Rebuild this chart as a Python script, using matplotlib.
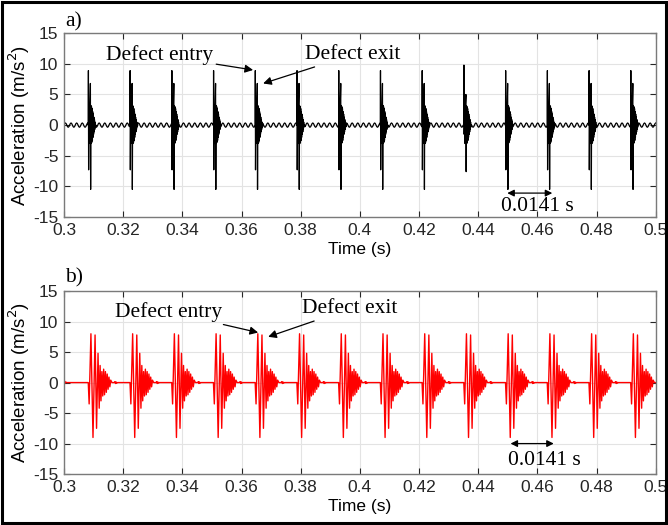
import numpy as np
import matplotlib
matplotlib.use('Agg')
import matplotlib.pyplot as plt
from matplotlib.patches import Rectangle
from matplotlib.ticker import FuncFormatter

plt.rcParams['axes.unicode_minus'] = False
plt.rcParams['font.family'] = ['Liberation Sans', 'DejaVu Sans']

# impact times (s)
burst_times = [0.3082, 0.3223, 0.3364, 0.3505, 0.3646, 0.3787, 0.3928,
               0.4069, 0.4210, 0.4351, 0.4492, 0.4633, 0.4774, 0.4915]

# panel a) burst shape: offsets (ms) and values (m/s^2)
a_dt = [0.0, 0.05, 0.12, 0.25, 0.40, 0.55, 0.72, 0.80, 0.90, 1.00, 1.10, 1.20,
        1.30, 1.40, 1.50, 1.60, 1.70, 1.80, 1.90, 2.00, 2.10, 2.20, 2.30, 2.45, 2.60]
a_val = [0.0, 8.9, -7.3, 3.2, -3.0, 3.4, 6.8, -10.5, 3.2, -3.0, 3.0, -2.8,
         2.7, -2.5, 2.2, -2.0, 1.8, -1.5, 1.3, -1.1, 0.9, -0.7, 0.5, -0.3, 0.0]
# per-burst spike values (entry peak, entry trough, exit peak, exit trough)
a_entry_peak = [8.9, 8.9, 8.9, 8.9, 8.9, 8.9, 8.9, 8.9, 8.9, 9.8, 8.9, 8.9, 8.9, 8.9]
a_entry_trough = [-7.3, -7.3, -7.3, -7.3, -7.3, -7.3, -7.3, -7.3, -7.3, -1.5, -7.3, -7.3, -7.3, -7.3]
a_exit_peak = [6.8, 6.8, 6.8, 6.8, 6.8, 6.8, 6.8, 6.8, 6.8, 5.0, 6.8, 6.8, 6.8, 6.8]
a_exit_trough = [-10.5, -10.5, -10.5, -10.5, -10.5, -10.5, -10.5, -10.5, -10.5, -7.6,
                 -10.5, -10.5, -10.5, -10.5]

# panel a) shaft ripple between impacts: one cycle, period 1.9 ms
ripple_period_ms = 1.9
ripple_cycle = [0.0, 0.25, 0.35, 0.25, 0.0, -0.25, -0.35, -0.25]

# panel b) burst shape: offsets (ms) and values (m/s^2)
b_dt = [0.0, 0.3, 0.9, 1.6, 2.3, 2.8, 3.3, 3.7, 4.0, 4.3, 4.6, 4.9, 5.2, 5.5,
        5.8, 6.1, 6.4, 6.7, 7.0, 7.3, 7.6, 8.0, 8.8, 9.0, 9.2, 9.4, 9.6, 9.9]
b_val = [0.0, -3.5, 8.0, -9.0, 7.8, -7.5, 4.8, -4.2, 2.8, -3.0, 1.8, -2.2, 2.2, -2.0,
         1.8, -1.6, 1.4, -1.1, 0.9, -0.7, 0.4, 0.0, 0.0, 0.15, -0.15, 0.1, -0.1, 0.0]
b_start_t = [0.3, 0.3002, 0.3005, 0.3010]
b_start_v = [1.2, -0.2, 0.1, 0.0]

xticks = [0.3, 0.32, 0.34, 0.36, 0.38, 0.4, 0.42, 0.44, 0.46, 0.48, 0.5]
yticks = [-15, -10, -5, 0, 5, 10, 15]


def signal_a():
    n_step = len(ripple_cycle)
    step = ripple_period_ms / 1000 / n_step
    rt = 0.3 + step * np.arange(int(0.2 / step) + 1)
    rv = np.array([ripple_cycle[k % n_step] for k in range(len(rt))])
    keep = np.ones(len(rt), bool)
    for t0 in burst_times:
        keep &= ~((rt >= t0) & (rt <= t0 + a_dt[-1] / 1000))
    t = list(rt[keep])
    v = list(rv[keep])
    for i, t0 in enumerate(burst_times):
        vals = list(a_val)
        vals[1] = a_entry_peak[i]
        vals[2] = a_entry_trough[i]
        vals[6] = a_exit_peak[i]
        vals[7] = a_exit_trough[i]
        t += [t0 + d / 1000 for d in a_dt]
        v += vals
    order = np.argsort(t)
    return np.array(t)[order], np.array(v)[order]


def signal_b():
    t = list(b_start_t)
    v = list(b_start_v)
    for t0 in burst_times:
        t += [t0 + d / 1000 for d in b_dt]
        v += b_val
    t.append(0.5)
    v.append(0.0)
    order = np.argsort(t)
    return np.array(t)[order], np.array(v)[order]


def style_axes(ax):
    ax.set_xlim(0.3, 0.5)
    ax.set_ylim(-15, 15)
    ax.set_xticks(xticks)
    ax.set_yticks(yticks)
    ax.xaxis.set_major_formatter(FuncFormatter(lambda v, p: f'{v:g}'))
    ax.grid(True, color='#e3e3e3', linewidth=0.8)
    ax.set_axisbelow(True)
    ax.tick_params(direction='in', length=4.5, width=0.8, top=True, right=True,
                   labelsize=12.5, colors='#262626', pad=4)
    for s in ax.spines.values():
        s.set_color('#7a7a7a')
        s.set_linewidth(1.0)
    ax.set_xlabel('Time (s)', fontsize=12.5, labelpad=3)
    ax.set_ylabel('Acceleration (m/s$^2$)', fontsize=13.5, labelpad=1)


serif = ['Liberation Serif', 'DejaVu Serif']
arrow = dict(arrowstyle='-|>', color='black', lw=0.9, mutation_scale=12,
             shrinkA=0, shrinkB=0)
darrow = dict(arrowstyle='<|-|>', color='black', lw=0.9, mutation_scale=10,
              shrinkA=0, shrinkB=0)
fs_note = 15.5

fig = plt.figure(figsize=(6.68, 5.25), dpi=100)
fig.patches.append(Rectangle((0.003, 0.004), 0.994, 0.992, transform=fig.transFigure,
                             fill=False, edgecolor='black', linewidth=2.2))

ax1 = fig.add_axes([0.0958, 0.5867, 0.886, 0.350])
ta, va = signal_a()
ax1.plot(ta, va, color='black', linewidth=0.9)
style_axes(ax1)
ax1.annotate('Defect entry', xy=(0.3639, 9.0), xytext=(0.3505, 11.4),
             ha='right', va='center', fontsize=fs_note, family=serif, arrowprops=arrow)
ax1.annotate('Defect exit', xy=(0.3673, 6.8), xytext=(0.3815, 11.5),
             ha='left', va='center', fontsize=fs_note, family=serif, arrowprops=arrow)
ax1.annotate('', xy=(0.4498, -11.1), xytext=(0.4650, -11.1), arrowprops=darrow)
ax1.text(0.4600, -13.3, '0.0141 s', ha='center', va='center', fontsize=fs_note, family=serif)

ax2 = fig.add_axes([0.0958, 0.097, 0.886, 0.3486])
tb, vb = signal_b()
ax2.plot(tb, vb, color='#ff0000', linewidth=1.0)
style_axes(ax2)
ax2.annotate('Defect entry', xy=(0.3656, 8.2), xytext=(0.3533, 11.6),
             ha='right', va='center', fontsize=fs_note, family=serif, arrowprops=arrow)
ax2.annotate('Defect exit', xy=(0.3690, 7.5), xytext=(0.3805, 12.1),
             ha='left', va='center', fontsize=fs_note, family=serif, arrowprops=arrow)
ax2.annotate('', xy=(0.4509, -10.0), xytext=(0.4655, -10.0), arrowprops=darrow)
ax2.text(0.4624, -12.8, '0.0141 s', ha='center', va='center', fontsize=fs_note, family=serif)

fig.text(65 / 668, 1 - 22 / 525, 'a)', ha='left', va='center', fontsize=fs_note, family=serif)
fig.text(65 / 668, 1 - 278 / 525, 'b)', ha='left', va='center', fontsize=fs_note, family=serif)

fig.savefig('out.png', dpi=100)
print('Save out.png')
